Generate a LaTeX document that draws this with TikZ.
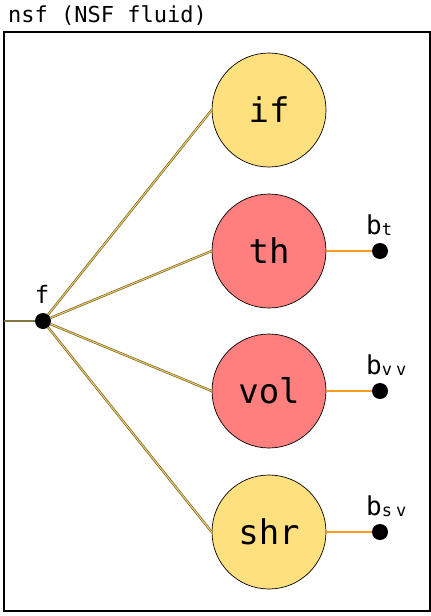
\documentclass[tikz,border=0pt]{standalone}
\usepackage{fontspec}
\setmonofont{DejaVu Sans Mono}
\definecolor{blobyellow}{HTML}{FFE07F}
\definecolor{blobred}{HTML}{FF7F7F}
\definecolor{tiebrown}{HTML}{6E5A28}
\definecolor{tieyellow}{HTML}{E8C860}
\definecolor{stubolive}{HTML}{857443}
\definecolor{bondorange}{HTML}{FF9A1A}
\begin{document}
\begin{tikzpicture}[x=1pt,y=-1pt,
  blob/.style={circle,draw=black,line width=0.7pt,minimum size=114pt,inner sep=0pt,
    font=\ttfamily\fontsize{34}{34}\selectfont},
  dot/.style={circle,fill=black,minimum size=16pt,inner sep=0pt},
  tie/.style={draw=tiebrown,double=tieyellow,double distance=1.1pt,line width=0.6pt},
  stub/.style={draw=stubolive,line width=1.6pt},
  bond/.style={draw=bondorange,line width=1.6pt},
  lbl/.style={font=\ttfamily\fontsize{22}{22}\selectfont}]
\useasboundingbox (0,0) rectangle (431,616);
\node[lbl,anchor=base west,inner sep=0pt] (title) at (8,22) {nsf (NSF fluid)};
\draw[line width=1.5pt] (4,32) rectangle (430,611);
\coordinate (edge) at (4,321);
% the four blobs
\foreach \n/\t/\c/\y in {if/if/blobyellow/110,th/th/blobred/251,vol/vol/blobred/391,shr/shr/blobyellow/532}
{
    \node[blob,fill=\c] (c\n) at (269,\y) {\t};
}
\node[dot] (f) at (43,321) {};
\node[lbl,anchor=base,inner sep=0pt,font=\ttfamily\fontsize{24}{24}\selectfont] (flbl) at (42,303) {f};
\draw[stub] (edge) -- (f);
\foreach \n in {if,th,vol,shr}
{
    \draw[tie] (f) -- (c\n.west);
}
% boundary dots
\foreach \n/\s/\y in {th/t/251,vol/{v\hspace{4pt}v}/391,shr/{s\hspace{4pt}v}/532}
{
    \node[dot] (d\n) at (380,\y) {};
    \draw[bond] (c\n.east) -- (d\n);
    \node[lbl,anchor=base west,inner sep=0pt,font=\ttfamily\fontsize{26}{26}\selectfont] (b\n) at (366,\y-17)
      {b\raisebox{-1.5pt}{\fontsize{17}{17}\selectfont\s}};
}
\end{tikzpicture}
\end{document}
